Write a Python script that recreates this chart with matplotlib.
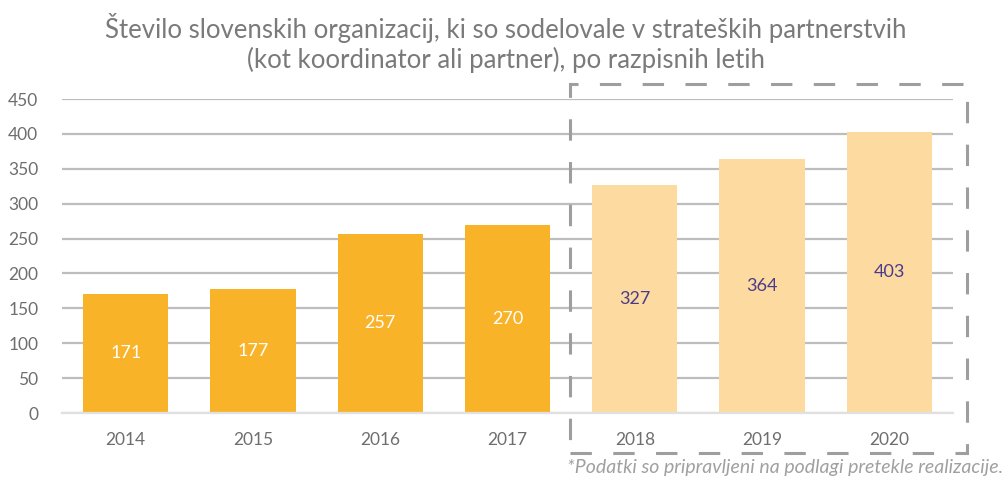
import numpy as np
import matplotlib.pyplot as plt
from matplotlib.patches import Rectangle

years = ["2014", "2015", "2016", "2017", "2018", "2019", "2020"]
counts = [171, 177, 257, 270, 327, 364, 403]
is_estimate = [False, False, False, False, True, True, True]
yticks = [0, 50, 100, 150, 200, 250, 300, 350, 400, 450]

title = ("Število slovenskih organizacij, ki so sodelovale v strateških partnerstvih\n"
         "(kot koordinator ali partner), po razpisnih letih")
note = "*Podatki so pripravljeni na podlagi pretekle realizacije."

plt.rcParams['font.family'] = ['Lato', 'DejaVu Sans']

fig = plt.figure(figsize=(10.06, 4.79), dpi=100)
ax = fig.add_axes([62 / 1006, 1 - 413 / 479, 891 / 1006, 314 / 479])

x = np.arange(len(years))
colors = ['#FDDBA0' if e else '#F9B329' for e in is_estimate]
ax.bar(x, counts, width=0.67, color=colors, zorder=3)

for xi, v, e in zip(x, counts, is_estimate):
    ax.text(xi, v / 2, str(v), ha='center', va='center', fontsize=13,
            color='#4A3C8C' if e else 'white', zorder=4)

ax.set_xlim(-0.5, len(years) - 0.5)
ax.set_ylim(0, 450)
ax.set_yticks(yticks)
ax.set_xticks(x)
ax.set_xticklabels(years)
ax.yaxis.grid(True, color='#BDBDBD', linewidth=1.6, zorder=0)
ax.set_axisbelow(True)
for s in ['top', 'right', 'left']:
    ax.spines[s].set_visible(False)
ax.spines['bottom'].set_color('#E0E0E0')
ax.spines['bottom'].set_linewidth(1.6)
ax.spines['bottom'].set_zorder(5)
ax.tick_params(axis='both', length=0, labelsize=12.5, labelcolor='#6E6E6E')
ax.tick_params(axis='y', pad=17)
ax.tick_params(axis='x', pad=14)

# dashed frame around the estimated years
box = Rectangle((570 / 1006, 1 - 453 / 479), 397 / 1006, 369 / 479,
                transform=fig.transFigure, fill=False, edgecolor='#9E9E9E',
                linewidth=2.2, linestyle=(0, (7, 7)), zorder=10)
fig.patches.append(box)

fig.text(0.503, 0.91, title, ha='center', va='center', fontsize=18.5,
         color='#7A7A7A', linespacing=1.2)
fig.text(0.997, 1 - 468 / 479, note, ha='right', va='center', fontsize=14,
         color='#A0A0A0', style='italic')

fig.savefig("out.png", dpi=100)
